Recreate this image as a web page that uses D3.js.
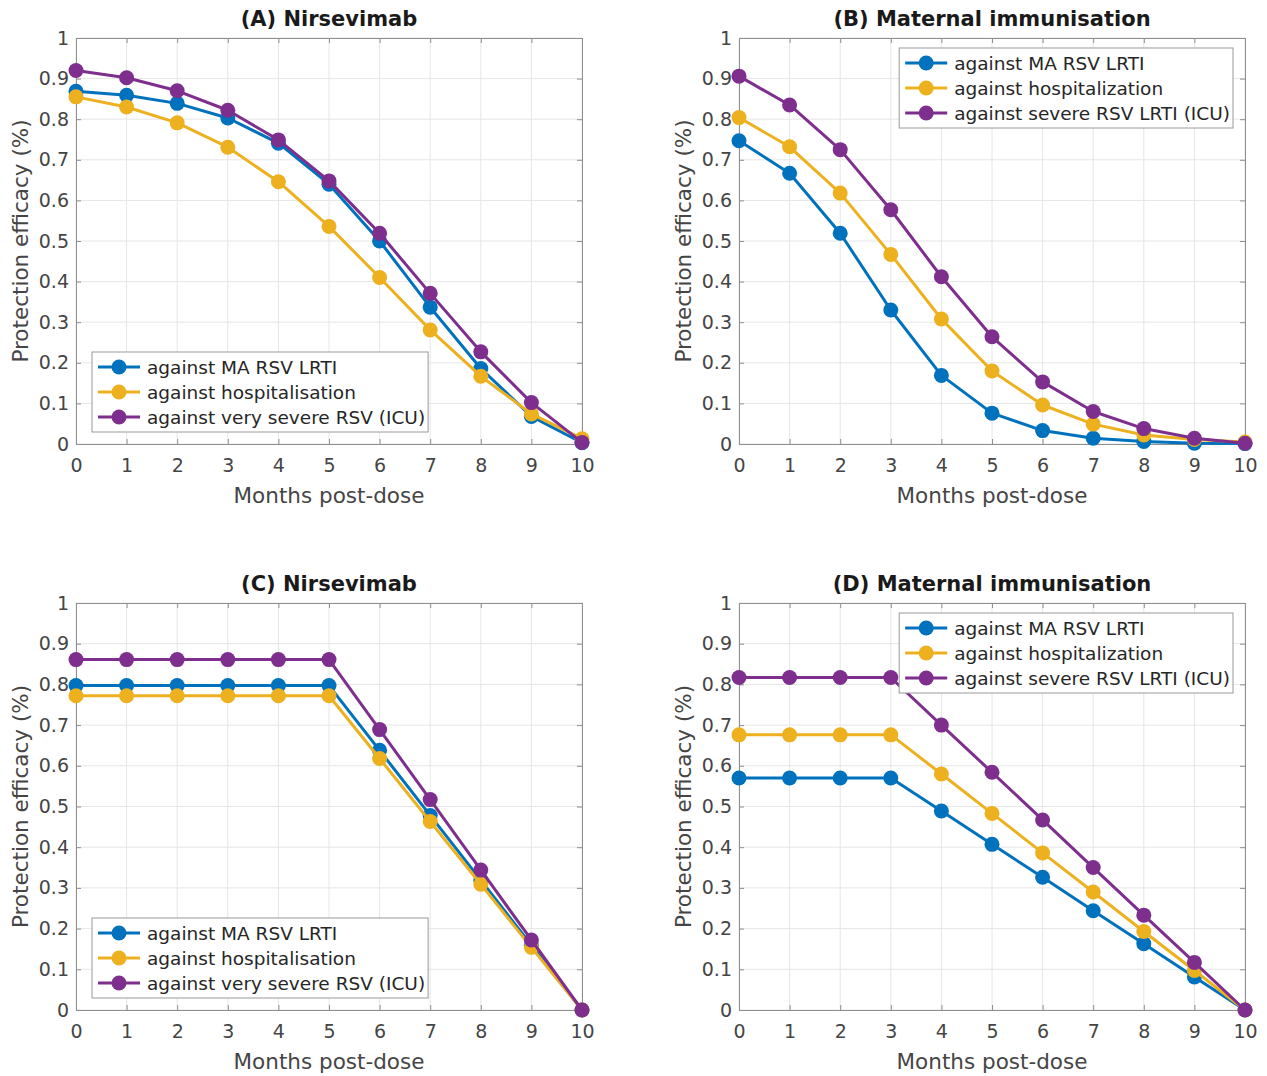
<!DOCTYPE html>
<html>
<head>
<meta charset="utf-8">
<script src="https://cdn.jsdelivr.net/npm/d3@7/dist/d3.min.js"></script>
<style>
  html, body { margin: 0; padding: 0; background: #fff; }
  svg { display: block; font-family: "DejaVu Sans", sans-serif; }
</style>
</head>
<body>
<svg id="chart" width="1267" height="1076"></svg>
<script>
// ---------- data ----------
const months = [0, 1, 2, 3, 4, 5, 6, 7, 8, 9, 10];
const yTicks = [0, 0.1, 0.2, 0.3, 0.4, 0.5, 0.6, 0.7, 0.8, 0.9, 1];
const yTickLabels = ["0", "0.1", "0.2", "0.3", "0.4", "0.5", "0.6", "0.7", "0.8", "0.9", "1"];

const titles = ["(A) Nirsevimab", "(B) Maternal immunisation", "(C) Nirsevimab", "(D) Maternal immunisation"];
const xLabel = "Months post-dose";
const yLabel = "Protection efficacy (%)";

const legendNirsevimab = ["against MA RSV LRTI", "against hospitalisation", "against very severe RSV (ICU)"];
const legendMaternal = ["against MA RSV LRTI", "against hospitalization", "against severe RSV LRTI (ICU)"];
const seriesColors = ["#0072BD", "#EDB120", "#7E2F8E"];

// Panel A
const aMA   = [0.869, 0.859, 0.839, 0.803, 0.741, 0.640, 0.500, 0.337, 0.186, 0.068, 0.003];
const aHosp = [0.855, 0.830, 0.791, 0.731, 0.646, 0.536, 0.410, 0.281, 0.167, 0.074, 0.013];
const aICU  = [0.920, 0.902, 0.870, 0.822, 0.749, 0.648, 0.519, 0.371, 0.227, 0.102, 0.004];
// Panel B
const bMA   = [0.747, 0.667, 0.519, 0.330, 0.169, 0.076, 0.033, 0.014, 0.006, 0.002, 0.001];
const bHosp = [0.804, 0.732, 0.618, 0.467, 0.308, 0.180, 0.096, 0.049, 0.022, 0.011, 0.005];
const bICU  = [0.906, 0.835, 0.725, 0.577, 0.412, 0.264, 0.153, 0.080, 0.038, 0.014, 0.002];
// Panel C
const cMA   = [0.797, 0.797, 0.797, 0.797, 0.797, 0.797, 0.638, 0.478, 0.319, 0.159, 0];
const cHosp = [0.772, 0.772, 0.772, 0.772, 0.772, 0.772, 0.618, 0.463, 0.309, 0.154, 0];
const cICU  = [0.861, 0.861, 0.861, 0.861, 0.861, 0.861, 0.689, 0.517, 0.344, 0.172, 0];
// Panel D
const dMA   = [0.570, 0.570, 0.570, 0.570, 0.489, 0.407, 0.326, 0.244, 0.163, 0.081, 0];
const dHosp = [0.676, 0.676, 0.676, 0.676, 0.580, 0.483, 0.386, 0.290, 0.193, 0.097, 0];
const dICU  = [0.817, 0.817, 0.817, 0.817, 0.700, 0.584, 0.467, 0.350, 0.233, 0.117, 0];

// ---------- layout ----------
const panels = [
  { title: titles[0], series: [aMA, aHosp, aICU], legend: legendNirsevimab, legendPos: "bl", L: 76,  R: 582,  T: 38,  B: 444 },
  { title: titles[1], series: [bMA, bHosp, bICU], legend: legendMaternal,   legendPos: "tr", L: 739, R: 1245, T: 38,  B: 444 },
  { title: titles[2], series: [cMA, cHosp, cICU], legend: legendNirsevimab, legendPos: "bl", L: 76,  R: 582,  T: 603, B: 1010 },
  { title: titles[3], series: [dMA, dHosp, dICU], legend: legendMaternal,   legendPos: "tr", L: 739, R: 1245, T: 603, B: 1010 }
];

const svg = d3.select("#chart");
const frameColor = "#8f8f8f";
const gridColor = "#e6e6e6";
const textColor = "#454545";
const lineW = 3;
const markerR = 7.5;

panels.forEach(p => {
  const x = d3.scaleLinear().domain([0, 10]).range([p.L, p.R]);
  const y = d3.scaleLinear().domain([0, 1]).range([p.B, p.T]);
  const g = svg.append("g");

  // grid
  g.append("g").selectAll("line").data(months).join("line")
    .attr("x1", d => x(d)).attr("x2", d => x(d))
    .attr("y1", y(0)).attr("y2", y(1))
    .attr("stroke", gridColor).attr("stroke-width", 1);
  g.append("g").selectAll("line").data(yTicks).join("line")
    .attr("y1", d => y(d)).attr("y2", d => y(d))
    .attr("x1", x(0)).attr("x2", x(10))
    .attr("stroke", gridColor).attr("stroke-width", 1);

  // axes
  const styleAxis = sel => {
    sel.select(".domain").attr("stroke", frameColor).attr("stroke-width", 1);
    sel.selectAll(".tick line").attr("stroke", frameColor);
    sel.selectAll(".tick text").attr("fill", textColor).style("font-size", "19px")
       .style("font-family", "'DejaVu Sans', sans-serif");
  };
  g.append("g").attr("transform", `translate(0,${p.B})`)
    .call(d3.axisBottom(x).tickValues(months).tickFormat(d3.format("d")).tickSizeInner(-5).tickSizeOuter(0).tickPadding(15))
    .call(styleAxis);
  g.append("g").attr("transform", `translate(0,${p.T})`)
    .call(d3.axisTop(x).tickValues(months).tickFormat("").tickSizeInner(-5).tickSizeOuter(0))
    .call(styleAxis);
  g.append("g").attr("transform", `translate(${p.L},0)`)
    .call(d3.axisLeft(y).tickValues(yTicks).tickFormat((d, i) => yTickLabels[i]).tickSizeInner(-5).tickSizeOuter(0).tickPadding(7))
    .call(styleAxis);
  g.append("g").attr("transform", `translate(${p.R},0)`)
    .call(d3.axisRight(y).tickValues(yTicks).tickFormat("").tickSizeInner(-5).tickSizeOuter(0))
    .call(styleAxis);

  // series
  const line = d3.line().x((d, i) => x(months[i])).y(d => y(d));
  p.series.forEach((s, si) => {
    g.append("path").datum(s)
      .attr("d", line).attr("fill", "none")
      .attr("stroke", seriesColors[si]).attr("stroke-width", lineW)
      .attr("stroke-linejoin", "round");
    g.append("g").selectAll("circle").data(s).join("circle")
      .attr("cx", (d, i) => x(months[i])).attr("cy", d => y(d))
      .attr("r", markerR).attr("fill", seriesColors[si]);
  });

  // title
  g.append("text").attr("x", (p.L + p.R) / 2).attr("y", p.T - 12)
    .attr("text-anchor", "middle").attr("fill", "#1a1a1a")
    .style("font-size", "21px").style("font-weight", "bold")
    .text(p.title);

  // x label
  g.append("text").attr("x", (p.L + p.R) / 2).attr("y", p.B + 59)
    .attr("text-anchor", "middle").attr("fill", textColor)
    .style("font-size", "21.5px").text(xLabel);

  // y label
  g.append("text")
    .attr("transform", `translate(${p.L - 48},${(p.T + p.B) / 2}) rotate(-90)`)
    .attr("text-anchor", "middle").attr("fill", textColor)
    .style("font-size", "21.5px").text(yLabel);

  // legend
  const rowH = 25, boxH = 80;
  const lg = g.append("g");
  const box = lg.append("rect").attr("fill", "#fff").attr("stroke", "#9a9a9a").attr("stroke-width", 1);
  const texts = [];
  p.legend.forEach((t, i) => {
    const row = lg.append("g");
    row.append("line").attr("x1", 6).attr("x2", 48).attr("y1", 15 + i * rowH).attr("y2", 15 + i * rowH)
      .attr("stroke", seriesColors[i]).attr("stroke-width", lineW);
    row.append("circle").attr("cx", 27).attr("cy", 15 + i * rowH).attr("r", markerR).attr("fill", seriesColors[i]);
    const tx = row.append("text").attr("x", 55).attr("y", 15 + i * rowH + 6.5)
      .attr("fill", "#262626").style("font-size", "18.5px").text(t);
    texts.push(tx);
  });
  const maxW = d3.max(texts, t => t.node().getComputedTextLength());
  const boxW = 55 + maxW + 3;
  box.attr("x", 0).attr("y", 0).attr("width", boxW).attr("height", boxH);
  let lx, ly;
  if (p.legendPos === "bl") { lx = p.L + 16; ly = p.B - 12 - boxH; }
  else { lx = p.R - 12 - boxW; ly = p.T + 10; }
  lg.attr("transform", `translate(${lx},${ly})`);
});
</script>
</body>
</html>
